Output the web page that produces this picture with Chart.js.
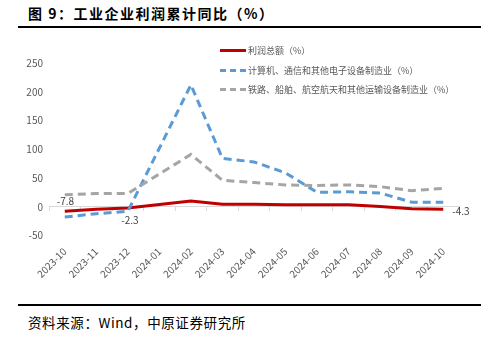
<!DOCTYPE html>
<html>
<head>
<meta charset="utf-8">
<script src="https://cdn.jsdelivr.net/npm/chart.js@4.4.1/dist/chart.umd.min.js"></script>
<style>
  body { margin: 0; width: 481px; height: 348px; background: #fff; position: relative; overflow: hidden;
         font-family: "Noto Sans CJK SC", sans-serif; }
  .title { position: absolute; left: 28px; top: 3px; font-size: 14px; font-weight: bold; letter-spacing: 1.5px; color: #000; }
  .rule { position: absolute; left: 18px; right: 0; height: 2px; background: #000; }
  .source { position: absolute; left: 28px; top: 312px; font-size: 13.5px; letter-spacing: 0.6px; color: #000; }
  #wrap { position: absolute; left: 0; top: 30px; width: 481px; height: 252px; }
  #legend { position: absolute; left: 220px; top: 41px; font-size: 9px; color: #595959; }
  #legend div { height: 19.5px; display: flex; align-items: center; }
  #legend span.sw { display: inline-block; width: 26px; height: 0; margin-right: 2px; }
</style>
</head>
<body>
<div class="title">图 9：工业企业利润累计同比（%）</div>
<div class="rule" style="top:26px"></div>
<div id="wrap"><canvas id="chart"></canvas></div>
<div id="legend"></div>
<div class="rule" style="top:304px"></div>
<div class="source">资料来源：Wind，中原证券研究所</div>
<script>
// categories and series (cumulative yoy, %)
const months = ['2023-10', '2023-11', '2023-12', '2024-01', '2024-02', '2024-03', '2024-04',
                '2024-05', '2024-06', '2024-07', '2024-08', '2024-09', '2024-10'];
const seriesNames = ['利润总额（%）', '计算机、通信和其他电子设备制造业（%）', '铁路、船舶、航空航天和其他运输设备制造业（%）'];
const profitTotal = [-7.8, -4.4, -2.3, null, 10.2, 4.3, 4.3, 3.4, 3.5, 3.6, 0.5, -3.5, -4.3];
const electronics = [-18, -12, -8, null, 212, 84, 78, 59, 25, 26, 24, 8, 8];
const transport = [21, 23, 23, null, 91, 46, 42, 38, 37, 38, 35, 28, 32];
const yTicks = [-50, 0, 50, 100, 150, 200, 250];

const colors = ['#C00000', '#5B9BD5', '#A5A5A5'];
const dashes = [[], [8, 5], [8, 5]];

// which values get a data label, and where
const labelSpots = [
  { series: 0, index: 0, dx: -8, dy: -10, align: 'left' },
  { series: 0, index: 2, dx: 2, dy: 12, align: 'center' },
  { series: 0, index: 12, dx: 9, dy: 2, align: 'left' }
];

const valueLabels = {
  id: 'valueLabels',
  afterDatasetsDraw(chart) {
    const ctx = chart.ctx;
    ctx.save();
    ctx.font = '10px "Noto Sans CJK SC", sans-serif';
    ctx.fillStyle = '#404040';
    ctx.textBaseline = 'middle';
    labelSpots.forEach(s => {
      const pt = chart.getDatasetMeta(s.series).data[s.index];
      const v = chart.data.datasets[s.series].data[s.index];
      ctx.textAlign = s.align;
      ctx.fillText(v.toFixed(1), pt.x + s.dx, pt.y + s.dy);
    });
    ctx.restore();
  }
};

const datasets = [profitTotal, electronics, transport].map((d, i) => ({
  label: seriesNames[i],
  data: d,
  borderColor: colors[i],
  backgroundColor: colors[i],
  borderWidth: 3,
  borderDash: dashes[i],
  pointRadius: 0,
  tension: 0,
  spanGaps: true,
  order: 3 - i
}));

new Chart(document.getElementById('chart'), {
  type: 'line',
  data: { labels: months, datasets: datasets },
  options: {
    responsive: true,
    maintainAspectRatio: false,
    animation: false,
    layout: { padding: { top: 33, right: 22, left: 14, bottom: 0 } },
    plugins: { legend: { display: false }, tooltip: { enabled: false } },
    scales: {
      x: {
        offset: true,
        grid: { display: false },
        border: { display: false },
        ticks: {
          color: '#595959',
          font: { size: 10, family: '"Noto Sans CJK SC", sans-serif' },
          minRotation: 45, maxRotation: 45, autoSkip: false, padding: 2
        }
      },
      x0: {
        axis: 'x',
        type: 'category',
        labels: months,
        position: { y: 0 },
        offset: true,
        grid: { offset: true, drawOnChartArea: false, drawTicks: true, tickLength: 4, color: '#d9d9d9' },
        border: { display: true, color: '#d9d9d9' },
        ticks: { display: false }
      },
      y: {
        min: -50, max: 250,
        afterBuildTicks: axis => { axis.ticks = yTicks.map(v => ({ value: v })); },
        afterFit: axis => { axis.width = 35; },
        grid: { display: false, drawTicks: false },
        border: { display: false },
        ticks: {
          color: '#595959',
          font: { size: 10, family: '"Noto Sans CJK SC", sans-serif' },
          padding: 6
        }
      }
    }
  },
  plugins: [valueLabels]
});

// legend built from the same series
const legend = document.getElementById('legend');
seriesNames.forEach((name, i) => {
  const row = document.createElement('div');
  const sw = document.createElement('span');
  sw.className = 'sw';
  sw.style.borderTop = i === 0 ? '3px solid ' + colors[i] : '3px dashed ' + colors[i];
  row.appendChild(sw);
  row.appendChild(document.createTextNode(name));
  legend.appendChild(row);
});
</script>
</body>
</html>
